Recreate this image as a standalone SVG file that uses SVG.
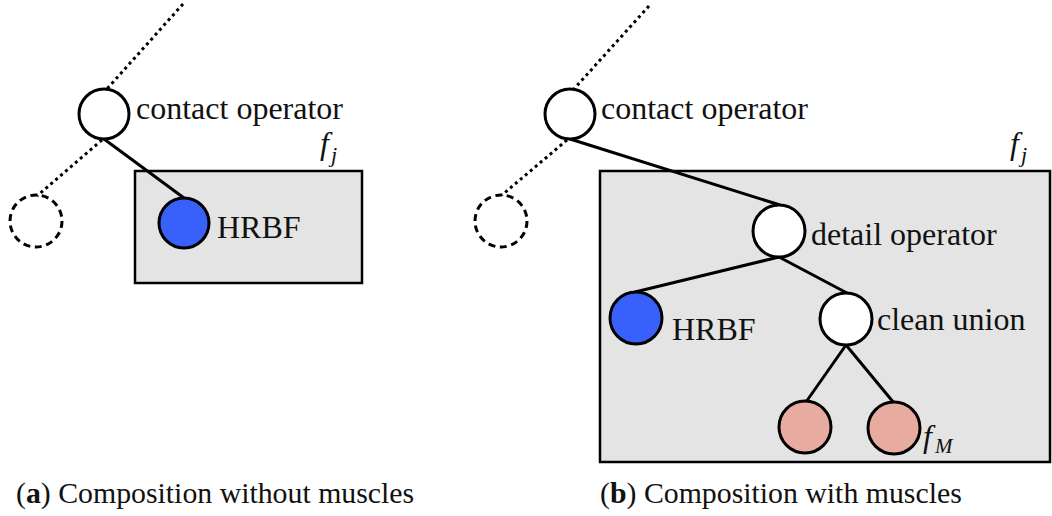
<svg xmlns="http://www.w3.org/2000/svg" width="1052" height="516" viewBox="0 0 1052 516">
<style>
.box{fill:#e4e4e4;stroke:#000;stroke-width:2.5}
.edge{stroke:#000;stroke-width:3;fill:none}
.dot{stroke:#000;stroke-width:3;fill:none;stroke-dasharray:3 3.5}
.op{fill:#fff;stroke:#000;stroke-width:3}
.ghost{fill:none;stroke:#000;stroke-width:3;stroke-dasharray:7 4.6}
.hrbf{fill:#3860fb;stroke:#000;stroke-width:3}
.mus{fill:#e8aba0;stroke:#000;stroke-width:3}
.lbl{font-family:"Liberation Serif",serif;font-size:32px;fill:#111}
.it{font-family:"Liberation Serif",serif;font-style:italic;fill:#111}
.cap{font-family:"Liberation Serif",serif;font-size:29.8px;fill:#111}
</style>
<g id="box-a"><rect class="box" x="135" y="171" width="227" height="112"/><text class="it" x="320" y="154" font-size="32">f</text><text class="it" x="331" y="162" font-size="22">j</text></g>
<g id="box-b"><rect class="box" x="600" y="171" width="450" height="291"/><text class="it" x="1010" y="154" font-size="32">f</text><text class="it" x="1021" y="162" font-size="22">j</text></g>
<g id="connectors">
<line class="dot" x1="183" y1="4" x2="106" y2="90"/>
<line class="dot" x1="102" y1="140" x2="37" y2="196"/>
<line class="edge" x1="104" y1="139" x2="184" y2="198"/>
<line class="dot" x1="649" y1="6" x2="573" y2="90"/>
<line class="dot" x1="567" y1="140" x2="502" y2="195"/>
<line class="edge" x1="570" y1="139" x2="780" y2="205"/>
<line class="edge" x1="779" y1="257" x2="635" y2="292"/>
<line class="edge" x1="779" y1="257" x2="847" y2="293"/>
<line class="edge" x1="846" y1="345" x2="806" y2="402"/>
<line class="edge" x1="846" y1="345" x2="894" y2="403"/>
</g>
<g id="a-contact"><circle class="op" cx="104" cy="114" r="25"/><text class="lbl" x="136" y="119">contact operator</text></g>
<g id="a-ghost"><circle class="ghost" cx="36" cy="221" r="26"/></g>
<g id="a-hrbf"><circle class="hrbf" cx="184" cy="223" r="25"/><text class="lbl" x="217" y="238">HRBF</text></g>
<g id="b-contact"><circle class="op" cx="570" cy="114" r="25"/><text class="lbl" x="601" y="119">contact operator</text></g>
<g id="b-ghost"><circle class="ghost" cx="501" cy="221" r="26"/></g>
<g id="b-detail"><circle class="op" cx="779" cy="231" r="26"/><text class="lbl" x="811" y="245">detail operator</text></g>
<g id="b-hrbf"><circle class="hrbf" cx="636" cy="318" r="26"/><text class="lbl" x="672" y="340">HRBF</text></g>
<g id="b-union"><circle class="op" cx="846" cy="319" r="26"/><text class="lbl" x="877" y="330">clean union</text></g>
<g id="b-muscle1"><circle class="mus" cx="805" cy="427" r="26"/></g>
<g id="b-muscle2"><circle class="mus" cx="894" cy="428" r="26"/><text class="it" x="923" y="447" font-size="32">f</text><text class="it" x="935" y="453" font-size="21">M</text></g>
<g id="captions">
<text class="cap" x="16" y="503">(<tspan font-weight="bold">a</tspan>) Composition without muscles</text>
<text class="cap" x="600" y="503">(<tspan font-weight="bold">b</tspan>) Composition with muscles</text>
</g>
</svg>
